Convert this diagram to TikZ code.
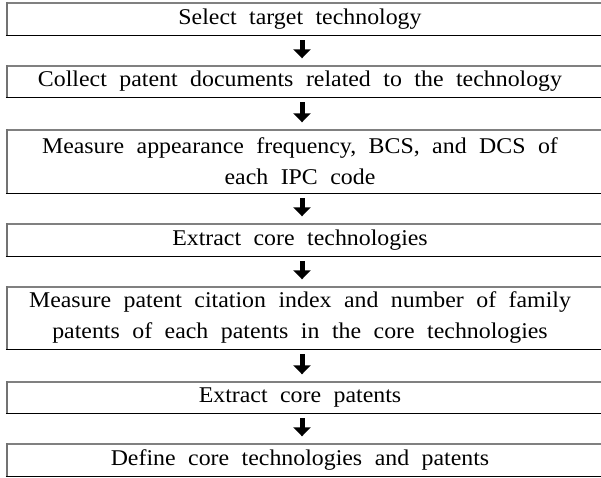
\documentclass[tikz,border=0pt]{standalone}
\usepackage{fontspec}
\setmainfont{Liberation Serif}[FakeStretch=1.06]
\usetikzlibrary{arrows.meta}
\begin{document}
\begin{tikzpicture}[x=1pt,y=1pt,
  stepbox/.style={minimum width=586pt, text width=584pt, align=center,
    inner sep=0pt, anchor=center,
    font=\fontsize{22.5}{31}\selectfont,
    execute at begin node={\spaceskip=12.5pt\relax}},
  topline/.style={draw=black!50, line width=1.6pt},
  leftline/.style={draw=black!55, line width=2pt},
  bottomline/.style={draw=black, line width=1pt},
  flowarrow/.style={line width=5pt, -{Triangle[width=17pt,length=9pt]},
    shorten <=5pt, shorten >=7.5pt}]
\useasboundingbox (0,0) rectangle (601,477);

% process steps, top to bottom
\node[stepbox, minimum height=32pt] (s1) at (300,458) {Select target technology};
\node[stepbox, minimum height=31pt] (s2) at (300,395.5) {Collect patent documents related to the technology};
\node[stepbox, minimum height=63pt] (s3) at (300,315.5) {Measure appearance frequency, BCS, and DCS of\\each IPC code};
\node[stepbox, minimum height=32pt] (s4) at (300,237) {Extract core technologies};
\node[stepbox, minimum height=62pt] (s5) at (300,159) {Measure patent citation index and number of family\\patents of each patents in the core technologies};
\node[stepbox, minimum height=31pt] (s6) at (300,79.5) {Extract core patents};
\node[stepbox, minimum height=32pt] (s7) at (300,17) {Define core technologies and patents};

% box frames: grey top and left edges, black bottom edge, open on the right
\foreach \b in {s1,s2,s3,s4,s5,s6,s7} {
  \draw[topline] ([xshift=-1pt]\b.north west) -- ([xshift=10pt]\b.north east);
  \draw[leftline] ([yshift=0.8pt]\b.north west) -- (\b.south west);
  \draw[bottomline] ([xshift=-1pt]\b.south west) -- ([xshift=10pt]\b.south east);
}

% flow arrows
\foreach \a/\b in {s1/s2,s2/s3,s3/s4,s4/s5,s5/s6,s6/s7}
  \draw[flowarrow] ([xshift=2pt]\a.south) -- ([xshift=2pt]\b.north);
\end{tikzpicture}
\end{document}
